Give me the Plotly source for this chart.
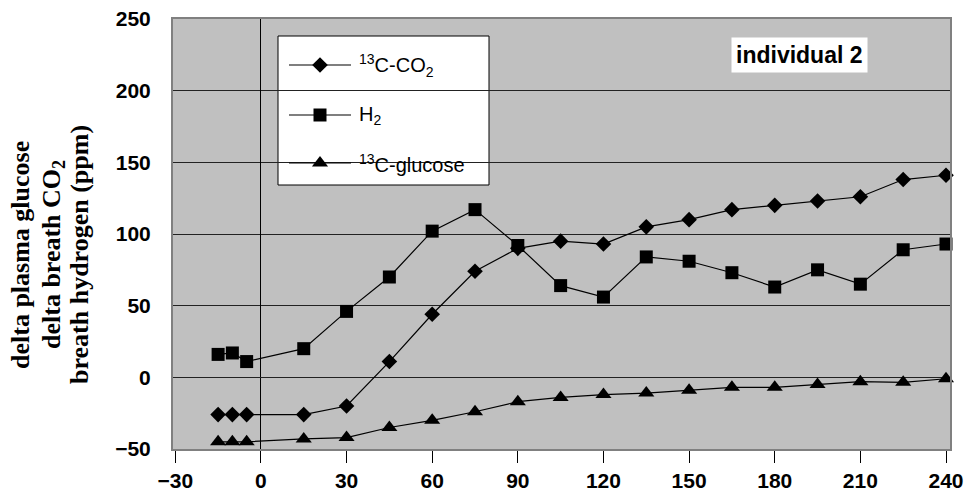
import plotly.graph_objects as go

# ---- data ----
minutes = [-15, -10, -5, 15, 30, 45, 60, 75, 90, 105, 120, 135, 150, 165, 180, 195, 210, 225, 240]
co2_13c = [-26, -26, -26, -26, -20, 11, 44, 74, 90, 95, 93, 105, 110, 117, 120, 123, 126, 138, 141]
h2 = [16, 17, 11, 20, 46, 70, 102, 117, 92, 64, 56, 84, 81, 73, 63, 75, 65, 89, 93]
glucose_13c = [-45, -45, -45, -43, -42, -35, -30, -24, -17, -14, -12, -11, -9, -7, -7, -5, -3, -3.5, -1]

series_names = ["<sup>13</sup>C-CO<sub>2</sub>", "H<sub>2</sub>", "<sup>13</sup>C-glucose"]
series_values = [co2_13c, h2, glucose_13c]
series_symbols = ["diamond", "square", "triangle-up"]
series_sizes = [12, 13, 14]

x_ticks = [-30, 0, 30, 60, 90, 120, 150, 180, 210, 240]
y_ticks = [-50, 0, 50, 100, 150, 200, 250]

# ---- layout geometry (pixels) ----
W, H = 967, 498
L, R, T, B = 173, 950, 19, 449
pw, ph = R - L, B - T


def px(x):
    return (x - L) / pw


def py(y):
    return (B - y) / ph


SANS = "Liberation Sans, Arial, sans-serif"
SERIF = "Liberation Serif, Times New Roman, serif"

fig = go.Figure()

for name, vals, sym, sz in zip(series_names, series_values, series_symbols, series_sizes):
    fig.add_trace(go.Scatter(
        x=minutes, y=vals, mode="lines+markers", name=name,
        line=dict(color="black", width=1.2),
        marker=dict(symbol=sym, size=sz, color="black", line=dict(width=0)),
        cliponaxis=False, showlegend=False,
    ))

# ---- manual legend ----
leg_x0, leg_x1, leg_y0, leg_y1 = 278, 489, 36, 185
fig.add_shape(type="rect", xref="paper", yref="paper",
              x0=px(leg_x0), x1=px(leg_x1), y0=py(leg_y1), y1=py(leg_y0),
              line=dict(color="black", width=1), fillcolor="white", layer="between")
entry_y = [65, 115, 163]
for name, sym, sz, ey in zip(series_names, series_symbols, series_sizes, entry_y):
    fig.add_trace(go.Scatter(
        x=[px(289), px(351)], y=[py(ey), py(ey)], mode="lines",
        line=dict(color="black", width=1.2), xaxis="x2", yaxis="y2",
        showlegend=False, hoverinfo="skip"))
    fig.add_trace(go.Scatter(
        x=[px(320)], y=[py(ey)], mode="markers",
        marker=dict(symbol=sym, size=sz, color="black", line=dict(width=0)),
        xaxis="x2", yaxis="y2", showlegend=False, hoverinfo="skip", cliponaxis=False))
    fig.add_annotation(xref="paper", yref="paper", x=px(357), y=py(ey),
                       xanchor="left", yanchor="middle", text=name, showarrow=False,
                       font=dict(family=SANS, size=20, color="black"))

# ---- label "individual 2" ----
fig.add_annotation(xref="paper", yref="paper", x=px(799), y=py(55),
                   xanchor="center", yanchor="middle", text="individual 2", showarrow=False,
                   bgcolor="white", borderpad=4,
                   font=dict(family=SANS, size=23, color="black", weight="bold"))

# ---- y axis title (three rotated lines) ----
title_lines = ["delta plasma glucose", "delta breath CO<sub>2</sub>", "breath hydrogen (ppm)"]
title_x = [20, 53, 79]
for t, tx in zip(title_lines, title_x):
    fig.add_annotation(xref="paper", yref="paper", x=px(tx), y=py(255),
                       xanchor="center", yanchor="middle", text=t, showarrow=False,
                       textangle=-90,
                       font=dict(family=SERIF, size=26, color="black", weight="bold"))

fig.update_layout(
    width=W, height=H,
    margin=dict(l=L, r=W - R, t=T, b=H - B, autoexpand=False),
    paper_bgcolor="white", plot_bgcolor="#C0C0C0",
    xaxis=dict(range=[-30.8, 241.4], tickvals=x_ticks, showgrid=False,
               zeroline=True, zerolinecolor="black", zerolinewidth=1,
               showline=True, linecolor="#808080", linewidth=2, mirror=True,
               ticks="outside", ticklen=12, tickcolor="black", tickwidth=1,
               automargin=False,
               tickfont=dict(family=SANS, size=21, color="black", weight="bold")),
    yaxis=dict(range=[-50, 250], tickvals=y_ticks, showgrid=True,
               gridcolor="#222222", gridwidth=1,
               zeroline=True, zerolinecolor="#222222", zerolinewidth=1,
               showline=True, linecolor="#808080", linewidth=2, mirror=True,
               ticks="outside", ticklen=16, tickcolor="rgba(0,0,0,0)",
               automargin=False,
               tickfont=dict(family=SANS, size=21, color="black", weight="bold")),
    xaxis2=dict(overlaying="x", anchor="y2", range=[0, 1], visible=False),
    yaxis2=dict(overlaying="y", anchor="x2", range=[0, 1], visible=False),
    showlegend=False,
)

fig.write_html("out.html")
